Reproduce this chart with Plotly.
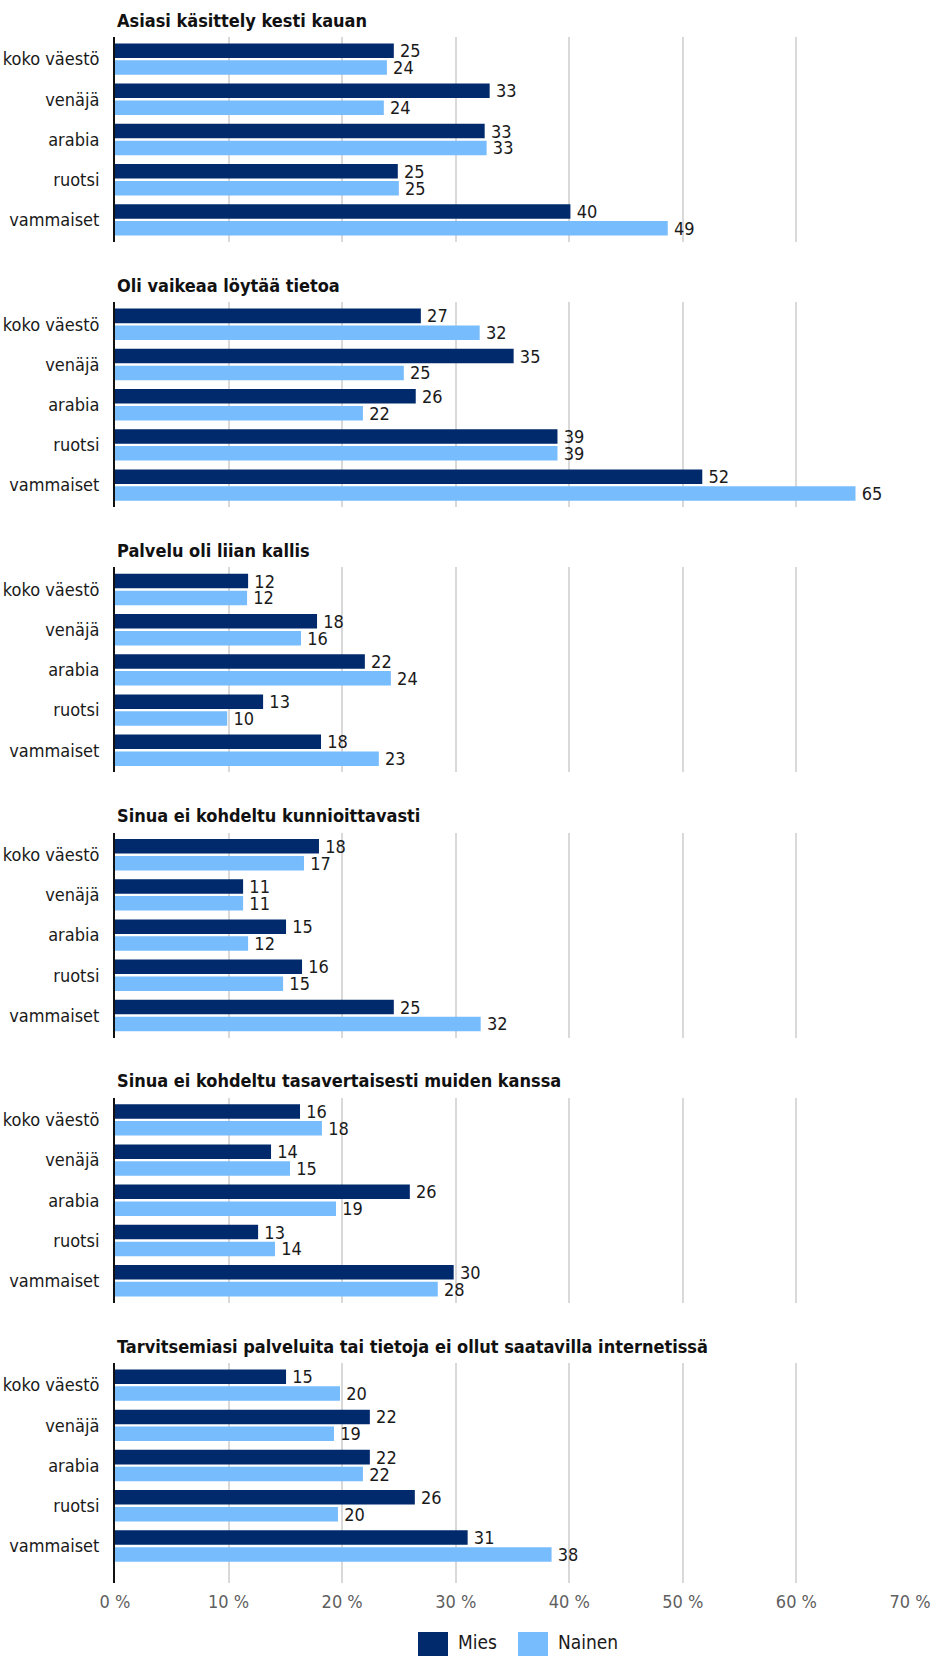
import plotly.graph_objects as go

# ---------------- data ----------------
categories = ["koko väestö", "venäjä", "arabia", "ruotsi", "vammaiset"]

titles = [
    "Asiasi käsittely kesti kauan",
    "Oli vaikeaa löytää tietoa",
    "Palvelu oli liian kallis",
    "Sinua ei kohdeltu kunnioittavasti",
    "Sinua ei kohdeltu tasavertaisesti muiden kanssa",
    "Tarvitsemiasi palveluita tai tietoja ei ollut saatavilla internetissä",
]

mies_1 = [24.55, 32.99, 32.55, 24.90, 40.10]
nainen_1 = [23.94, 23.67, 32.72, 24.99, 48.67]
mies_2 = [26.93, 35.10, 26.48, 38.96, 51.71]
nainen_2 = [32.11, 25.43, 21.83, 38.96, 65.20]
mies_3 = [11.72, 17.79, 22.00, 13.04, 18.14]
nainen_3 = [11.63, 16.38, 24.29, 9.88, 23.23]
mies_4 = [17.96, 11.28, 15.06, 16.47, 24.55]
nainen_4 = [16.64, 11.28, 11.72, 14.80, 32.20]
mies_5 = [16.29, 13.74, 25.96, 12.60, 29.82]
nainen_5 = [18.22, 15.41, 19.46, 14.09, 28.42]
mies_6 = [15.06, 22.44, 22.44, 26.40, 31.05]
nainen_6 = [19.81, 19.28, 21.83, 19.63, 38.44]

mies = [mies_1, mies_2, mies_3, mies_4, mies_5, mies_6]
nainen = [nainen_1, nainen_2, nainen_3, nainen_4, nainen_5, nainen_6]

series_names = ["Mies", "Nainen"]
x_ticks = [0, 10, 20, 30, 40, 50, 60, 70]

# ---------------- style ----------------
W, H = 932, 1656
ML, MR = 115, 22
NAVY = "#002A6C"
LIGHT = "#77BCFC"
GRID = "#D9D9D9"
FONT = "DejaVu Sans Condensed, Liberation Sans Narrow, Arial Narrow, sans-serif"
TXT = "#1A1A1A"
FS = 18

PANEL_TOP0 = 37.0
PANEL_PITCH = 265.2
PANEL_H = 205.0
LAST_BOTTOM = 1583.0

fig = go.Figure()
layout = {}

for i in range(6):
    sfx = "" if i == 0 else str(i + 1)
    for vals, name, col in ((mies[i], series_names[0], NAVY), (nainen[i], series_names[1], LIGHT)):
        fig.add_trace(go.Bar(
            y=categories, x=vals, orientation="h", name=name,
            marker=dict(color=col, line=dict(width=0)),
            xaxis="x" + sfx, yaxis="y" + sfx,
            texttemplate="\u2009%{x:.0f}", textposition="outside",
            textfont=dict(family=FONT, size=FS, color=TXT),
            constraintext="none", cliponaxis=False,
            showlegend=False, hovertemplate=name + ": %{x:.1f} %<extra>%{y}</extra>",
        ))
    top = PANEL_TOP0 + PANEL_PITCH * i
    if i < 5:
        bottom = top + PANEL_H
        yr = [4.55, -0.55]
    else:
        bottom = LAST_BOTTOM
        yr = [4.92, -0.55]
    layout["xaxis" + sfx] = dict(
        domain=[0, 1], anchor="y" + sfx, range=[0, 70],
        tickvals=x_ticks, ticktext=[f"{v} %" for v in x_ticks],
        showgrid=True, gridcolor=GRID, gridwidth=2, zeroline=False,
        showline=False, ticks="", showticklabels=(i == 5),
        tickfont=dict(family=FONT, size=FS, color="#5F5F5F"),
        ticklabelstandoff=6, fixedrange=True, automargin=False,
    )
    layout["yaxis" + sfx] = dict(
        domain=[1 - bottom / H, 1 - top / H], anchor="x" + sfx,
        range=yr, type="category",
        showline=True, linecolor="#111111", linewidth=2,
        showgrid=False, zeroline=False, ticks="",
        tickfont=dict(family=FONT, size=FS, color=TXT),
        ticklabelstandoff=10, fixedrange=True, automargin=False,
    )

annotations = []
for i, t in enumerate(titles):
    ypix = 20 + PANEL_PITCH * i
    annotations.append(dict(
        text=t, xref="paper", yref="paper", x=0, y=1 - ypix / H,
        xanchor="left", yanchor="middle", showarrow=False,
        font=dict(family=FONT, size=FS, color="#111111", weight="bold"),
    ))

# custom legend (large swatches like the reference)
def px_x(p):
    return (p - ML) / (W - ML - MR)

shapes = []
leg_items = [(series_names[0], NAVY, 418, 456), (series_names[1], LIGHT, 518, 556)]
for name, col, sx, tx in leg_items:
    shapes.append(dict(type="rect", xref="paper", yref="paper",
                       x0=px_x(sx), x1=px_x(sx + 30),
                       y0=1 - 1656 / H, y1=1 - 1632 / H,
                       fillcolor=col, line=dict(width=0), layer="above"))
    annotations.append(dict(
        text=name, xref="paper", yref="paper", x=px_x(tx), y=1 - 1642 / H,
        xanchor="left", yanchor="middle", showarrow=False,
        font=dict(family=FONT, size=19, color=TXT),
    ))

fig.update_layout(
    width=W, height=H,
    margin=dict(l=ML, r=MR, t=0, b=0, autoexpand=False),
    paper_bgcolor="white", plot_bgcolor="white",
    barmode="group", bargap=0.16, bargroupgap=0.14,
    annotations=annotations, shapes=shapes,
    font=dict(family=FONT, size=FS, color=TXT),
    showlegend=False,
    **layout,
)

fig.write_html(
    "out.html",
    config={"displayModeBar": False},
    post_script="document.body.style.margin='0';document.body.style.overflow='hidden';",
)
